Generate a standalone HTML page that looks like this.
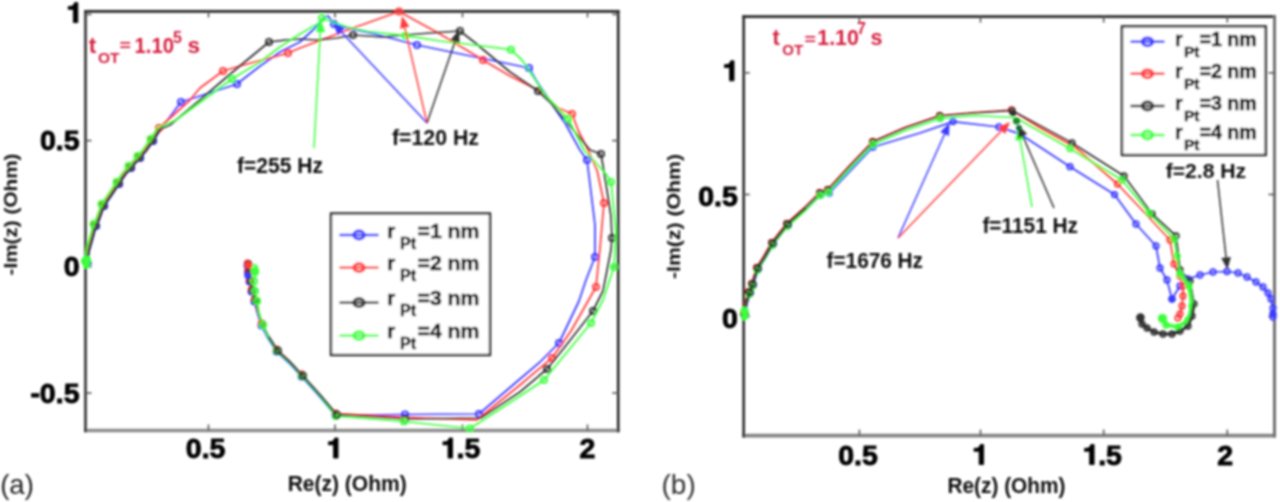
<!DOCTYPE html><html><head><meta charset="utf-8"><style>html,body{margin:0;padding:0;background:#fff;}svg{display:block;}text{font-family:"Liberation Sans",sans-serif;}</style></head><body>
<svg width="1280" height="502" viewBox="0 0 1280 502">
<defs><filter id="bl" x="-5%" y="-5%" width="110%" height="110%"><feGaussianBlur stdDeviation="0.85"/></filter></defs>
<rect width="1280" height="502" fill="#fff"/>
<g filter="url(#bl)">
<line x1="84.2" y1="11.4" x2="619.5" y2="11.4" stroke="#262626" stroke-width="2.60"/>
<line x1="84.2" y1="430.5" x2="619.5" y2="430.5" stroke="#8c8c8c" stroke-width="3.60"/>
<line x1="85.5" y1="10.1" x2="85.5" y2="432.3" stroke="#303030" stroke-width="2.60"/>
<line x1="618.2" y1="10.1" x2="618.2" y2="432.3" stroke="#262626" stroke-width="2.60"/>
<line x1="208.5" y1="430.5" x2="208.5" y2="424.5" stroke="#555" stroke-width="1.6"/>
<line x1="208.5" y1="11.4" x2="208.5" y2="17.4" stroke="#555" stroke-width="1.6"/>
<line x1="335.0" y1="430.5" x2="335.0" y2="424.5" stroke="#555" stroke-width="1.6"/>
<line x1="335.0" y1="11.4" x2="335.0" y2="17.4" stroke="#555" stroke-width="1.6"/>
<line x1="462.5" y1="430.5" x2="462.5" y2="424.5" stroke="#555" stroke-width="1.6"/>
<line x1="462.5" y1="11.4" x2="462.5" y2="17.4" stroke="#555" stroke-width="1.6"/>
<line x1="587.5" y1="430.5" x2="587.5" y2="424.5" stroke="#555" stroke-width="1.6"/>
<line x1="587.5" y1="11.4" x2="587.5" y2="17.4" stroke="#555" stroke-width="1.6"/>
<line x1="85.5" y1="14.4" x2="91.5" y2="14.4" stroke="#555" stroke-width="1.6"/>
<line x1="618.2" y1="14.4" x2="612.2" y2="14.4" stroke="#555" stroke-width="1.6"/>
<line x1="85.5" y1="140.6" x2="91.5" y2="140.6" stroke="#555" stroke-width="1.6"/>
<line x1="618.2" y1="140.6" x2="612.2" y2="140.6" stroke="#555" stroke-width="1.6"/>
<line x1="85.5" y1="266.8" x2="91.5" y2="266.8" stroke="#555" stroke-width="1.6"/>
<line x1="618.2" y1="266.8" x2="612.2" y2="266.8" stroke="#555" stroke-width="1.6"/>
<line x1="85.5" y1="393.0" x2="91.5" y2="393.0" stroke="#555" stroke-width="1.6"/>
<line x1="618.2" y1="393.0" x2="612.2" y2="393.0" stroke="#555" stroke-width="1.6"/>
<polyline points="87.7,263.0 89.2,251.0 93.2,237.0 96.2,226.0 99.2,220.0 104.2,206.0 111.2,196.0 119.2,184.0 125.2,175.0 131.2,168.0 140.2,158.0 146.2,151.0 153.2,141.0 160.2,130.0 181.0,102.0 200.0,96.0 237.0,84.0 260.0,66.0 280.0,52.0 300.0,42.0 316.0,27.0 323.0,18.0 328.0,16.0 334.0,24.0 347.0,28.0 375.0,34.0 417.0,45.0 451.0,52.0 500.0,62.0 529.0,68.0 536.0,80.0 560.0,116.0 565.0,123.0 580.0,150.0 587.0,160.0 590.0,184.0 595.0,225.0 595.0,257.0 586.0,280.0 579.0,301.0 559.0,343.0 540.0,362.0 520.0,379.0 479.0,414.0 405.0,414.5 335.5,415.5 319.5,396.5 301.5,376.5 289.5,363.5 276.5,351.5 267.5,337.5 261.5,325.5 257.5,313.5 254.5,301.5 251.5,291.5 249.5,281.5 248.0,272.5 247.5,265.5" fill="none" stroke="#3a3aff" stroke-width="1.75" stroke-linejoin="round"/>
<circle cx="87.7" cy="263.0" r="3.1" fill="none" stroke="#3a3aff" stroke-width="1.80"/>
<circle cx="96.2" cy="226.0" r="3.1" fill="none" stroke="#3a3aff" stroke-width="1.80"/>
<circle cx="104.2" cy="206.0" r="3.1" fill="none" stroke="#3a3aff" stroke-width="1.80"/>
<circle cx="119.2" cy="184.0" r="3.1" fill="none" stroke="#3a3aff" stroke-width="1.80"/>
<circle cx="131.2" cy="168.0" r="3.1" fill="none" stroke="#3a3aff" stroke-width="1.80"/>
<circle cx="140.2" cy="158.0" r="3.1" fill="none" stroke="#3a3aff" stroke-width="1.80"/>
<circle cx="153.2" cy="141.0" r="3.1" fill="none" stroke="#3a3aff" stroke-width="1.80"/>
<circle cx="181.0" cy="102.0" r="3.1" fill="none" stroke="#3a3aff" stroke-width="1.80"/>
<circle cx="237.0" cy="84.0" r="3.1" fill="none" stroke="#3a3aff" stroke-width="1.80"/>
<circle cx="334.0" cy="24.0" r="3.1" fill="none" stroke="#3a3aff" stroke-width="1.80"/>
<circle cx="417.0" cy="45.0" r="3.1" fill="none" stroke="#3a3aff" stroke-width="1.80"/>
<circle cx="529.0" cy="68.0" r="3.1" fill="none" stroke="#3a3aff" stroke-width="1.80"/>
<circle cx="587.0" cy="160.0" r="3.1" fill="none" stroke="#3a3aff" stroke-width="1.80"/>
<circle cx="595.0" cy="257.0" r="3.1" fill="none" stroke="#3a3aff" stroke-width="1.80"/>
<circle cx="559.0" cy="343.0" r="3.1" fill="none" stroke="#3a3aff" stroke-width="1.80"/>
<circle cx="479.0" cy="414.0" r="3.1" fill="none" stroke="#3a3aff" stroke-width="1.80"/>
<circle cx="405.0" cy="414.5" r="3.1" fill="none" stroke="#3a3aff" stroke-width="1.80"/>
<circle cx="335.5" cy="415.5" r="3.1" fill="none" stroke="#3a3aff" stroke-width="1.80"/>
<circle cx="301.5" cy="376.5" r="3.1" fill="none" stroke="#3a3aff" stroke-width="1.80"/>
<circle cx="276.5" cy="351.5" r="3.1" fill="none" stroke="#3a3aff" stroke-width="1.80"/>
<circle cx="261.5" cy="325.5" r="3.1" fill="none" stroke="#3a3aff" stroke-width="1.80"/>
<circle cx="254.5" cy="301.5" r="3.1" fill="none" stroke="#3a3aff" stroke-width="1.80"/>
<circle cx="251.5" cy="291.5" r="3.1" fill="none" stroke="#3a3aff" stroke-width="1.80"/>
<circle cx="249.5" cy="281.5" r="3.1" fill="none" stroke="#3a3aff" stroke-width="1.80"/>
<circle cx="248.0" cy="272.5" r="3.1" fill="none" stroke="#3a3aff" stroke-width="1.80"/>
<circle cx="247.5" cy="265.5" r="3.1" fill="none" stroke="#3a3aff" stroke-width="1.80"/>
<polyline points="85.7,261.4 87.2,249.4 91.2,235.4 94.2,224.4 97.2,218.4 102.2,204.4 109.2,194.4 117.2,182.4 123.2,173.4 129.2,166.4 138.2,156.4 144.2,149.4 151.2,139.4 158.2,128.4 159.0,128.0 190.0,100.0 200.0,88.0 223.0,71.0 240.0,66.0 288.0,53.0 300.0,48.0 316.0,42.0 342.0,32.0 370.0,22.0 399.0,11.5 440.0,34.0 483.0,60.0 510.0,76.0 538.0,90.0 558.0,108.0 572.0,114.0 578.0,130.0 588.0,150.0 597.0,170.0 604.0,203.0 600.0,248.0 596.0,287.0 571.0,331.0 552.0,358.0 520.0,385.0 476.7,420.0 405.5,417.3 335.7,413.5 319.7,394.5 301.7,374.5 289.7,361.5 276.7,349.5 267.7,335.5 261.7,323.5 257.7,311.5 254.7,299.5 251.7,289.5 249.7,279.5 248.2,270.5 247.7,263.5" fill="none" stroke="#ff3a3a" stroke-width="1.75" stroke-linejoin="round"/>
<circle cx="85.7" cy="261.4" r="3.1" fill="none" stroke="#ff3a3a" stroke-width="1.80"/>
<circle cx="94.2" cy="224.4" r="3.1" fill="none" stroke="#ff3a3a" stroke-width="1.80"/>
<circle cx="102.2" cy="204.4" r="3.1" fill="none" stroke="#ff3a3a" stroke-width="1.80"/>
<circle cx="117.2" cy="182.4" r="3.1" fill="none" stroke="#ff3a3a" stroke-width="1.80"/>
<circle cx="129.2" cy="166.4" r="3.1" fill="none" stroke="#ff3a3a" stroke-width="1.80"/>
<circle cx="138.2" cy="156.4" r="3.1" fill="none" stroke="#ff3a3a" stroke-width="1.80"/>
<circle cx="151.2" cy="139.4" r="3.1" fill="none" stroke="#ff3a3a" stroke-width="1.80"/>
<circle cx="159.0" cy="128.0" r="3.1" fill="none" stroke="#ff3a3a" stroke-width="1.80"/>
<circle cx="223.0" cy="71.0" r="3.1" fill="none" stroke="#ff3a3a" stroke-width="1.80"/>
<circle cx="288.0" cy="53.0" r="3.1" fill="none" stroke="#ff3a3a" stroke-width="1.80"/>
<circle cx="399.0" cy="11.5" r="3.1" fill="none" stroke="#ff3a3a" stroke-width="1.80"/>
<circle cx="483.0" cy="60.0" r="3.1" fill="none" stroke="#ff3a3a" stroke-width="1.80"/>
<circle cx="572.0" cy="114.0" r="3.1" fill="none" stroke="#ff3a3a" stroke-width="1.80"/>
<circle cx="604.0" cy="203.0" r="3.1" fill="none" stroke="#ff3a3a" stroke-width="1.80"/>
<circle cx="596.0" cy="287.0" r="3.1" fill="none" stroke="#ff3a3a" stroke-width="1.80"/>
<circle cx="552.0" cy="358.0" r="3.1" fill="none" stroke="#ff3a3a" stroke-width="1.80"/>
<circle cx="335.7" cy="413.5" r="3.1" fill="none" stroke="#ff3a3a" stroke-width="1.80"/>
<circle cx="301.7" cy="374.5" r="3.1" fill="none" stroke="#ff3a3a" stroke-width="1.80"/>
<circle cx="276.7" cy="349.5" r="3.1" fill="none" stroke="#ff3a3a" stroke-width="1.80"/>
<circle cx="261.7" cy="323.5" r="3.1" fill="none" stroke="#ff3a3a" stroke-width="1.80"/>
<circle cx="254.7" cy="299.5" r="3.1" fill="none" stroke="#ff3a3a" stroke-width="1.80"/>
<circle cx="251.7" cy="289.5" r="3.1" fill="none" stroke="#ff3a3a" stroke-width="1.80"/>
<circle cx="249.7" cy="279.5" r="3.1" fill="none" stroke="#ff3a3a" stroke-width="1.80"/>
<circle cx="248.2" cy="270.5" r="3.1" fill="none" stroke="#ff3a3a" stroke-width="1.80"/>
<circle cx="247.7" cy="263.5" r="3.1" fill="none" stroke="#ff3a3a" stroke-width="1.80"/>
<polyline points="87.0,262.5 88.5,250.5 92.5,236.5 95.5,225.5 98.5,219.5 103.5,205.5 110.5,195.5 118.5,183.5 124.5,174.5 130.5,167.5 139.5,157.5 145.5,150.5 152.5,140.5 159.5,129.5 170.0,125.0 200.0,100.0 235.0,70.0 269.0,42.0 286.0,40.0 300.0,39.0 316.0,40.0 337.0,38.0 353.0,35.0 382.0,37.0 430.0,33.0 460.0,31.0 476.0,43.5 510.0,72.0 538.0,91.0 550.0,102.0 570.0,126.0 590.0,150.0 601.0,154.0 606.0,184.0 611.0,216.0 612.0,238.0 611.0,250.0 603.0,291.0 593.0,311.0 564.0,348.0 547.0,369.0 520.0,392.0 481.0,418.0 405.0,419.0 336.5,414.5 320.5,395.5 302.5,375.5 290.5,362.5 277.5,350.5 268.5,336.5 262.5,324.5 258.5,312.5 255.5,300.5 252.5,290.5 250.5,280.5 249.0,271.5 248.5,264.5" fill="none" stroke="#303030" stroke-width="1.75" stroke-linejoin="round"/>
<circle cx="87.0" cy="262.5" r="3.1" fill="none" stroke="#303030" stroke-width="1.80"/>
<circle cx="95.5" cy="225.5" r="3.1" fill="none" stroke="#303030" stroke-width="1.80"/>
<circle cx="103.5" cy="205.5" r="3.1" fill="none" stroke="#303030" stroke-width="1.80"/>
<circle cx="118.5" cy="183.5" r="3.1" fill="none" stroke="#303030" stroke-width="1.80"/>
<circle cx="130.5" cy="167.5" r="3.1" fill="none" stroke="#303030" stroke-width="1.80"/>
<circle cx="139.5" cy="157.5" r="3.1" fill="none" stroke="#303030" stroke-width="1.80"/>
<circle cx="152.5" cy="140.5" r="3.1" fill="none" stroke="#303030" stroke-width="1.80"/>
<circle cx="269.0" cy="42.0" r="3.1" fill="none" stroke="#303030" stroke-width="1.80"/>
<circle cx="353.0" cy="35.0" r="3.1" fill="none" stroke="#303030" stroke-width="1.80"/>
<circle cx="460.0" cy="31.0" r="3.1" fill="none" stroke="#303030" stroke-width="1.80"/>
<circle cx="538.0" cy="91.0" r="3.1" fill="none" stroke="#303030" stroke-width="1.80"/>
<circle cx="601.0" cy="154.0" r="3.1" fill="none" stroke="#303030" stroke-width="1.80"/>
<circle cx="612.0" cy="238.0" r="3.1" fill="none" stroke="#303030" stroke-width="1.80"/>
<circle cx="593.0" cy="311.0" r="3.1" fill="none" stroke="#303030" stroke-width="1.80"/>
<circle cx="547.0" cy="369.0" r="3.1" fill="none" stroke="#303030" stroke-width="1.80"/>
<circle cx="405.0" cy="419.0" r="3.1" fill="none" stroke="#303030" stroke-width="1.80"/>
<circle cx="336.5" cy="414.5" r="3.1" fill="none" stroke="#303030" stroke-width="1.80"/>
<circle cx="302.5" cy="375.5" r="3.1" fill="none" stroke="#303030" stroke-width="1.80"/>
<circle cx="277.5" cy="350.5" r="3.1" fill="none" stroke="#303030" stroke-width="1.80"/>
<circle cx="262.5" cy="324.5" r="3.1" fill="none" stroke="#303030" stroke-width="1.80"/>
<circle cx="255.5" cy="300.5" r="3.1" fill="none" stroke="#303030" stroke-width="1.80"/>
<circle cx="252.5" cy="290.5" r="3.1" fill="none" stroke="#303030" stroke-width="1.80"/>
<circle cx="250.5" cy="280.5" r="3.1" fill="none" stroke="#303030" stroke-width="1.80"/>
<circle cx="249.0" cy="271.5" r="3.1" fill="none" stroke="#303030" stroke-width="1.80"/>
<circle cx="248.5" cy="264.5" r="3.1" fill="none" stroke="#303030" stroke-width="1.80"/>
<polyline points="85.0,261.0 86.5,249.0 90.5,235.0 93.5,224.0 96.5,218.0 101.5,204.0 108.5,194.0 116.5,182.0 122.5,173.0 128.5,166.0 137.5,156.0 143.5,149.0 150.5,139.0 157.5,128.0 176.0,120.0 232.0,79.0 260.0,62.0 280.0,47.0 300.0,34.0 321.0,22.0 322.0,18.0 347.0,27.0 368.0,31.5 405.5,35.7 440.0,41.0 483.0,46.0 511.0,49.7 522.0,60.0 546.0,96.0 568.0,118.7 584.0,150.0 606.0,174.0 611.0,182.0 616.0,232.0 614.0,267.0 603.0,300.0 591.0,323.0 544.0,380.0 520.0,396.0 470.0,428.5 404.0,421.5 336.0,416.0 320.0,396.0 302.0,376.0 290.0,363.0 277.0,351.0 268.0,337.0 263.0,325.0 259.0,313.0 257.0,301.0 255.0,291.0 254.0,281.0 255.0,272.0 254.0,268.0" fill="none" stroke="#3aff3a" stroke-width="1.75" stroke-linejoin="round"/>
<circle cx="85.0" cy="261.0" r="3.1" fill="none" stroke="#3aff3a" stroke-width="1.80"/>
<circle cx="93.5" cy="224.0" r="3.1" fill="none" stroke="#3aff3a" stroke-width="1.80"/>
<circle cx="101.5" cy="204.0" r="3.1" fill="none" stroke="#3aff3a" stroke-width="1.80"/>
<circle cx="116.5" cy="182.0" r="3.1" fill="none" stroke="#3aff3a" stroke-width="1.80"/>
<circle cx="128.5" cy="166.0" r="3.1" fill="none" stroke="#3aff3a" stroke-width="1.80"/>
<circle cx="137.5" cy="156.0" r="3.1" fill="none" stroke="#3aff3a" stroke-width="1.80"/>
<circle cx="150.5" cy="139.0" r="3.1" fill="none" stroke="#3aff3a" stroke-width="1.80"/>
<circle cx="232.0" cy="79.0" r="3.1" fill="none" stroke="#3aff3a" stroke-width="1.80"/>
<circle cx="322.0" cy="18.0" r="3.1" fill="none" stroke="#3aff3a" stroke-width="1.80"/>
<circle cx="405.5" cy="35.7" r="3.1" fill="none" stroke="#3aff3a" stroke-width="1.80"/>
<circle cx="511.0" cy="49.7" r="3.1" fill="none" stroke="#3aff3a" stroke-width="1.80"/>
<circle cx="568.0" cy="118.7" r="3.1" fill="none" stroke="#3aff3a" stroke-width="1.80"/>
<circle cx="611.0" cy="182.0" r="3.1" fill="none" stroke="#3aff3a" stroke-width="1.80"/>
<circle cx="614.0" cy="267.0" r="3.1" fill="none" stroke="#3aff3a" stroke-width="1.80"/>
<circle cx="591.0" cy="323.0" r="3.1" fill="none" stroke="#3aff3a" stroke-width="1.80"/>
<circle cx="544.0" cy="380.0" r="3.1" fill="none" stroke="#3aff3a" stroke-width="1.80"/>
<circle cx="470.0" cy="428.5" r="3.1" fill="none" stroke="#3aff3a" stroke-width="1.80"/>
<circle cx="404.0" cy="421.5" r="3.1" fill="none" stroke="#3aff3a" stroke-width="1.80"/>
<circle cx="336.0" cy="416.0" r="3.1" fill="none" stroke="#3aff3a" stroke-width="1.80"/>
<circle cx="302.0" cy="376.0" r="3.1" fill="none" stroke="#3aff3a" stroke-width="1.80"/>
<circle cx="277.0" cy="351.0" r="3.1" fill="none" stroke="#3aff3a" stroke-width="1.80"/>
<circle cx="263.0" cy="325.0" r="3.1" fill="none" stroke="#3aff3a" stroke-width="1.80"/>
<circle cx="257.0" cy="301.0" r="3.1" fill="none" stroke="#3aff3a" stroke-width="1.80"/>
<circle cx="255.0" cy="291.0" r="3.1" fill="none" stroke="#3aff3a" stroke-width="1.80"/>
<circle cx="254.0" cy="281.0" r="3.1" fill="none" stroke="#3aff3a" stroke-width="1.80"/>
<circle cx="255.0" cy="272.0" r="3.1" fill="none" stroke="#3aff3a" stroke-width="1.80"/>
<circle cx="254.0" cy="268.0" r="3.1" fill="none" stroke="#3aff3a" stroke-width="1.80"/>
<polyline points="87.5,263.0 89.0,251.0 93.0,237.0 96.0,226.0 99.0,220.0 104.0,206.0 111.0,196.0 119.0,184.0 125.0,175.0 131.0,168.0 140.0,158.0 146.0,151.0 153.0,141.0 160.0,130.0" fill="none" stroke="#303030" stroke-width="1.70" stroke-linejoin="round"/>
<polyline points="336.8,414.8 320.8,395.8 302.8,375.8 290.8,362.8 277.8,350.8 268.8,336.8" fill="none" stroke="#303030" stroke-width="1.70" stroke-linejoin="round"/>
<circle cx="336.8" cy="414.8" r="3.1" fill="none" stroke="#303030" stroke-width="1.80"/>
<circle cx="302.8" cy="375.8" r="3.1" fill="none" stroke="#303030" stroke-width="1.80"/>
<circle cx="277.8" cy="350.8" r="3.1" fill="none" stroke="#303030" stroke-width="1.80"/>
<circle cx="248.5" cy="265.0" r="3.8" fill="#ff3a3a"/>
<circle cx="255.0" cy="271.0" r="4.2" fill="#3aff3a"/>
<circle cx="247.5" cy="275.5" r="3.2" fill="#3a3aff"/>
<circle cx="87.0" cy="260.0" r="4.2" fill="#3aff3a"/>
<circle cx="86.5" cy="265.0" r="3.6" fill="#3aff3a"/>
<line x1="427.0" y1="123.0" x2="341.2" y2="31.7" stroke="#3a3aff" stroke-width="1.50"/>
<polygon points="333.0,23.0 344.7,28.5 337.7,35.0" fill="#3a3aff"/>
<line x1="427.0" y1="123.0" x2="404.7" y2="27.7" stroke="#ff3a3a" stroke-width="1.50"/>
<polygon points="402.0,16.0 409.4,26.6 400.1,28.8" fill="#ff3a3a"/>
<line x1="427.0" y1="123.0" x2="455.1" y2="41.3" stroke="#303030" stroke-width="1.50"/>
<polygon points="459.0,30.0 459.6,42.9 450.6,39.8" fill="#303030"/>
<line x1="314.0" y1="148.0" x2="320.3" y2="32.0" stroke="#3aff3a" stroke-width="1.50"/>
<polygon points="321.0,20.0 325.1,32.2 315.6,31.7" fill="#3aff3a"/>
<rect x="331.0" y="213.5" width="159.0" height="141.5" fill="#fff" stroke="#282828" stroke-width="2.4"/>
<line x1="339.5" y1="235.0" x2="378.5" y2="235.0" stroke="#3a3aff" stroke-width="2.4"/>
<ellipse cx="359.0" cy="235.0" rx="5.2" ry="3.9" fill="none" stroke="#3a3aff" stroke-width="3.0"/>
<text x="387.2" y="237.7" font-size="20.5" fill="#000" stroke="#000" stroke-width="0.45" font-weight="bold">r</text>
<text x="400.0" y="248.8" font-size="16.0" fill="#000" stroke="#000" stroke-width="0.45" font-weight="bold">Pt</text>
<text x="417.5" y="237.7" font-size="20.5" fill="#000" stroke="#000" stroke-width="0.45" font-weight="bold" textLength="62.0" lengthAdjust="spacingAndGlyphs">=1 nm</text>
<line x1="339.5" y1="267.6" x2="378.5" y2="267.6" stroke="#ff3a3a" stroke-width="2.4"/>
<ellipse cx="359.0" cy="267.6" rx="5.2" ry="3.9" fill="none" stroke="#ff3a3a" stroke-width="3.0"/>
<text x="387.2" y="270.3" font-size="20.5" fill="#000" stroke="#000" stroke-width="0.45" font-weight="bold">r</text>
<text x="400.0" y="281.4" font-size="16.0" fill="#000" stroke="#000" stroke-width="0.45" font-weight="bold">Pt</text>
<text x="417.5" y="270.3" font-size="20.5" fill="#000" stroke="#000" stroke-width="0.45" font-weight="bold" textLength="62.0" lengthAdjust="spacingAndGlyphs">=2 nm</text>
<line x1="339.5" y1="302.6" x2="378.5" y2="302.6" stroke="#303030" stroke-width="2.4"/>
<ellipse cx="359.0" cy="302.6" rx="5.2" ry="3.9" fill="none" stroke="#303030" stroke-width="3.0"/>
<text x="387.2" y="305.3" font-size="20.5" fill="#000" stroke="#000" stroke-width="0.45" font-weight="bold">r</text>
<text x="400.0" y="316.4" font-size="16.0" fill="#000" stroke="#000" stroke-width="0.45" font-weight="bold">Pt</text>
<text x="417.5" y="305.3" font-size="20.5" fill="#000" stroke="#000" stroke-width="0.45" font-weight="bold" textLength="62.0" lengthAdjust="spacingAndGlyphs">=3 nm</text>
<line x1="339.5" y1="335.6" x2="378.5" y2="335.6" stroke="#3aff3a" stroke-width="2.4"/>
<ellipse cx="359.0" cy="335.6" rx="5.2" ry="3.9" fill="none" stroke="#3aff3a" stroke-width="3.0"/>
<text x="387.2" y="338.3" font-size="20.5" fill="#000" stroke="#000" stroke-width="0.45" font-weight="bold">r</text>
<text x="400.0" y="349.4" font-size="16.0" fill="#000" stroke="#000" stroke-width="0.45" font-weight="bold">Pt</text>
<text x="417.5" y="338.3" font-size="20.5" fill="#000" stroke="#000" stroke-width="0.45" font-weight="bold" textLength="62.0" lengthAdjust="spacingAndGlyphs">=4 nm</text>
<text x="88.8" y="52.8" font-size="22.5" font-weight="bold" fill="#d62040" text-anchor="start" >t</text>
<text x="98.0" y="63.2" font-size="15.5" font-weight="bold" fill="#d62040" text-anchor="start" textLength="21.5" lengthAdjust="spacingAndGlyphs" >OT</text>
<text x="119.5" y="51.3" font-size="16.5" font-weight="bold" fill="#d62040" text-anchor="start" textLength="11.5" lengthAdjust="spacingAndGlyphs" >=</text>
<text x="134.5" y="52.8" font-size="22.5" font-weight="bold" fill="#d62040" text-anchor="start" textLength="39.5" lengthAdjust="spacingAndGlyphs" >1.10</text>
<text x="173.0" y="42.5" font-size="16.0" font-weight="bold" fill="#d62040" text-anchor="start" >5</text>
<text x="187.5" y="52.8" font-size="22.5" font-weight="bold" fill="#d62040" text-anchor="start" >s</text>
<text x="392.0" y="145.0" font-size="21.5" font-weight="bold" fill="#111" text-anchor="start" textLength="87.0" lengthAdjust="spacingAndGlyphs" >f=120 Hz</text>
<text x="237.0" y="172.8" font-size="21.5" font-weight="bold" fill="#111" text-anchor="start" textLength="86.0" lengthAdjust="spacingAndGlyphs" >f=255 Hz</text>
<text x="205.6" y="458.0" font-size="28.5" font-weight="bold" fill="#000" text-anchor="middle" stroke="#000" stroke-width="0.9">0.5</text>
<text x="587.5" y="458.0" font-size="28.5" font-weight="bold" fill="#000" text-anchor="middle" stroke="#000" stroke-width="0.9">2</text>
<path d="M 338.00,458.00 L 338.00,438.05 L 334.72,438.05 L 334.01,440.05 L 332.01,441.61 L 328.45,441.90 L 328.45,444.75 L 333.58,444.75 L 333.58,458.00 Z" fill="#000" stroke="#000" stroke-width="0.9" stroke-linejoin="round"/>
<path d="M 452.49,458.00 L 452.49,438.05 L 449.21,438.05 L 448.50,440.05 L 446.50,441.61 L 442.94,441.90 L 442.94,444.75 L 448.07,444.75 L 448.07,458.00 Z" fill="#000" stroke="#000" stroke-width="0.9" stroke-linejoin="round"/>
<text x="456.6" y="458.0" font-size="28.5" font-weight="bold" fill="#000" text-anchor="start" stroke="#000" stroke-width="0.9">.5</text>
<text x="79.5" y="150.1" font-size="28.5" font-weight="bold" fill="#000" text-anchor="end" stroke="#000" stroke-width="0.9">0.5</text>
<text x="79.5" y="276.0" font-size="28.5" font-weight="bold" fill="#000" text-anchor="end" stroke="#000" stroke-width="0.9">0</text>
<text x="79.5" y="402.5" font-size="28.5" font-weight="bold" fill="#000" text-anchor="end" stroke="#000" stroke-width="0.9">-0.5</text>
<path d="M 77.80,22.60 L 77.80,2.65 L 74.52,2.65 L 73.81,4.64 L 71.81,6.21 L 68.25,6.50 L 68.25,9.35 L 73.38,9.35 L 73.38,22.60 Z" fill="#000" stroke="#000" stroke-width="0.9" stroke-linejoin="round"/>
<text x="347.2" y="490.6" font-size="22.0" font-weight="bold" fill="#111" text-anchor="middle" textLength="119.0" lengthAdjust="spacingAndGlyphs" >Re(z) (Ohm)</text>
<text transform="translate(16.8,214.5) rotate(-90)" font-size="18.5" font-weight="bold" fill="#111" text-anchor="middle" textLength="122" lengthAdjust="spacingAndGlyphs">-Im(z) (Ohm)</text>
<text x="0.2" y="493.5" font-size="27.5" font-weight="normal" fill="#222" text-anchor="start" >(a)</text>
<line x1="742.4" y1="16.6" x2="1276.0" y2="16.6" stroke="#2a2a2a" stroke-width="2.60"/>
<line x1="742.4" y1="435.6" x2="1276.0" y2="435.6" stroke="#848484" stroke-width="3.60"/>
<line x1="743.7" y1="15.3" x2="743.7" y2="437.4" stroke="#2a2a2a" stroke-width="2.60"/>
<line x1="1274.5" y1="15.3" x2="1274.5" y2="437.4" stroke="#707070" stroke-width="3.00"/>
<line x1="859.4" y1="435.6" x2="859.4" y2="429.6" stroke="#555" stroke-width="1.6"/>
<line x1="859.4" y1="16.6" x2="859.4" y2="22.6" stroke="#555" stroke-width="1.6"/>
<line x1="980.5" y1="435.6" x2="980.5" y2="429.6" stroke="#555" stroke-width="1.6"/>
<line x1="980.5" y1="16.6" x2="980.5" y2="22.6" stroke="#555" stroke-width="1.6"/>
<line x1="1103.7" y1="435.6" x2="1103.7" y2="429.6" stroke="#555" stroke-width="1.6"/>
<line x1="1103.7" y1="16.6" x2="1103.7" y2="22.6" stroke="#555" stroke-width="1.6"/>
<line x1="1227.3" y1="435.6" x2="1227.3" y2="429.6" stroke="#555" stroke-width="1.6"/>
<line x1="1227.3" y1="16.6" x2="1227.3" y2="22.6" stroke="#555" stroke-width="1.6"/>
<line x1="743.7" y1="72.8" x2="749.7" y2="72.8" stroke="#555" stroke-width="1.6"/>
<line x1="1274.5" y1="72.8" x2="1268.5" y2="72.8" stroke="#555" stroke-width="1.6"/>
<line x1="743.7" y1="194.5" x2="749.7" y2="194.5" stroke="#555" stroke-width="1.6"/>
<line x1="1274.5" y1="194.5" x2="1268.5" y2="194.5" stroke="#555" stroke-width="1.6"/>
<line x1="743.7" y1="316.5" x2="749.7" y2="316.5" stroke="#555" stroke-width="1.6"/>
<line x1="1274.5" y1="316.5" x2="1268.5" y2="316.5" stroke="#555" stroke-width="1.6"/>
<polyline points="745.2,315.2 747.2,303.2 750.2,293.2 753.2,285.2 758.2,269.2 765.2,258.2 773.2,244.2 780.2,235.2 788.2,225.2 806.2,209.2 821.2,194.2 829.2,193.2 873.0,147.0 920.0,133.0 953.0,121.6 999.0,127.0 1020.0,134.0 1070.0,166.7 1114.5,194.6 1136.0,224.0 1156.0,246.0 1160.0,268.0 1167.0,280.0 1172.0,299.0 1180.0,286.0 1188.0,279.0 1200.0,275.0 1213.0,272.0 1227.0,271.5 1238.0,273.0 1247.0,277.0 1256.0,282.0 1263.0,287.0 1268.0,293.0 1271.0,299.0 1273.0,308.0 1273.0,317.0" fill="none" stroke="#3a3aff" stroke-width="1.75" stroke-linejoin="round"/>
<circle cx="745.2" cy="315.2" r="2.8" fill="none" stroke="#3a3aff" stroke-width="1.70"/>
<circle cx="750.2" cy="293.2" r="2.8" fill="none" stroke="#3a3aff" stroke-width="1.70"/>
<circle cx="753.2" cy="285.2" r="2.8" fill="none" stroke="#3a3aff" stroke-width="1.70"/>
<circle cx="758.2" cy="269.2" r="2.8" fill="none" stroke="#3a3aff" stroke-width="1.70"/>
<circle cx="773.2" cy="244.2" r="2.8" fill="none" stroke="#3a3aff" stroke-width="1.70"/>
<circle cx="788.2" cy="225.2" r="2.8" fill="none" stroke="#3a3aff" stroke-width="1.70"/>
<circle cx="821.2" cy="194.2" r="2.8" fill="none" stroke="#3a3aff" stroke-width="1.70"/>
<circle cx="829.2" cy="193.2" r="2.8" fill="none" stroke="#3a3aff" stroke-width="1.70"/>
<circle cx="873.0" cy="147.0" r="2.8" fill="none" stroke="#3a3aff" stroke-width="1.70"/>
<circle cx="953.0" cy="121.6" r="2.8" fill="none" stroke="#3a3aff" stroke-width="1.70"/>
<circle cx="999.0" cy="127.0" r="2.8" fill="none" stroke="#3a3aff" stroke-width="1.70"/>
<circle cx="1070.0" cy="166.7" r="2.8" fill="none" stroke="#3a3aff" stroke-width="1.70"/>
<circle cx="1114.5" cy="194.6" r="2.8" fill="none" stroke="#3a3aff" stroke-width="1.70"/>
<circle cx="1136.0" cy="224.0" r="2.8" fill="none" stroke="#3a3aff" stroke-width="1.70"/>
<circle cx="1156.0" cy="246.0" r="2.8" fill="none" stroke="#3a3aff" stroke-width="1.70"/>
<circle cx="1160.0" cy="268.0" r="2.8" fill="none" stroke="#3a3aff" stroke-width="1.70"/>
<circle cx="1167.0" cy="280.0" r="2.8" fill="none" stroke="#3a3aff" stroke-width="1.70"/>
<circle cx="1172.0" cy="299.0" r="2.8" fill="none" stroke="#3a3aff" stroke-width="1.70"/>
<circle cx="1180.0" cy="286.0" r="2.8" fill="none" stroke="#3a3aff" stroke-width="1.70"/>
<circle cx="1188.0" cy="279.0" r="2.8" fill="none" stroke="#3a3aff" stroke-width="1.70"/>
<circle cx="1200.0" cy="275.0" r="2.8" fill="none" stroke="#3a3aff" stroke-width="1.70"/>
<circle cx="1213.0" cy="272.0" r="2.8" fill="none" stroke="#3a3aff" stroke-width="1.70"/>
<circle cx="1227.0" cy="271.5" r="2.8" fill="none" stroke="#3a3aff" stroke-width="1.70"/>
<circle cx="1238.0" cy="273.0" r="2.8" fill="none" stroke="#3a3aff" stroke-width="1.70"/>
<circle cx="1247.0" cy="277.0" r="2.8" fill="none" stroke="#3a3aff" stroke-width="1.70"/>
<circle cx="1256.0" cy="282.0" r="2.8" fill="none" stroke="#3a3aff" stroke-width="1.70"/>
<circle cx="1263.0" cy="287.0" r="2.8" fill="none" stroke="#3a3aff" stroke-width="1.70"/>
<circle cx="1268.0" cy="293.0" r="2.8" fill="none" stroke="#3a3aff" stroke-width="1.70"/>
<circle cx="1271.0" cy="299.0" r="2.8" fill="none" stroke="#3a3aff" stroke-width="1.70"/>
<circle cx="1273.0" cy="308.0" r="2.8" fill="none" stroke="#3a3aff" stroke-width="1.70"/>
<circle cx="1273.0" cy="317.0" r="2.8" fill="none" stroke="#3a3aff" stroke-width="1.70"/>
<polyline points="743.5,313.5 745.5,301.5 748.5,291.5 751.5,283.5 756.5,267.5 763.5,256.5 771.5,242.5 778.5,233.5 786.5,223.5 804.5,207.5 819.5,192.5 827.5,189.5 849.5,165.5 872.5,141.5 904.5,127.5 939.5,115.5 974.5,112.5 1011.5,110.0 1040.0,128.0 1076.0,148.0 1117.5,184.0 1144.0,212.0 1170.0,240.0 1174.0,264.0 1180.0,276.0 1183.0,286.0 1183.0,296.0 1182.0,306.0 1180.0,314.0 1178.0,318.0" fill="none" stroke="#ff3a3a" stroke-width="1.75" stroke-linejoin="round"/>
<circle cx="743.5" cy="313.5" r="2.8" fill="none" stroke="#ff3a3a" stroke-width="1.70"/>
<circle cx="748.5" cy="291.5" r="2.8" fill="none" stroke="#ff3a3a" stroke-width="1.70"/>
<circle cx="751.5" cy="283.5" r="2.8" fill="none" stroke="#ff3a3a" stroke-width="1.70"/>
<circle cx="756.5" cy="267.5" r="2.8" fill="none" stroke="#ff3a3a" stroke-width="1.70"/>
<circle cx="771.5" cy="242.5" r="2.8" fill="none" stroke="#ff3a3a" stroke-width="1.70"/>
<circle cx="786.5" cy="223.5" r="2.8" fill="none" stroke="#ff3a3a" stroke-width="1.70"/>
<circle cx="819.5" cy="192.5" r="2.8" fill="none" stroke="#ff3a3a" stroke-width="1.70"/>
<circle cx="827.5" cy="189.5" r="2.8" fill="none" stroke="#ff3a3a" stroke-width="1.70"/>
<circle cx="872.5" cy="141.5" r="2.8" fill="none" stroke="#ff3a3a" stroke-width="1.70"/>
<circle cx="939.5" cy="115.5" r="2.8" fill="none" stroke="#ff3a3a" stroke-width="1.70"/>
<circle cx="1011.5" cy="110.0" r="2.8" fill="none" stroke="#ff3a3a" stroke-width="1.70"/>
<circle cx="1117.5" cy="184.0" r="2.8" fill="none" stroke="#ff3a3a" stroke-width="1.70"/>
<circle cx="1170.0" cy="240.0" r="2.8" fill="none" stroke="#ff3a3a" stroke-width="1.70"/>
<circle cx="1174.0" cy="264.0" r="2.8" fill="none" stroke="#ff3a3a" stroke-width="1.70"/>
<circle cx="1180.0" cy="276.0" r="2.8" fill="none" stroke="#ff3a3a" stroke-width="1.70"/>
<circle cx="1183.0" cy="286.0" r="2.8" fill="none" stroke="#ff3a3a" stroke-width="1.70"/>
<circle cx="1183.0" cy="296.0" r="2.8" fill="none" stroke="#ff3a3a" stroke-width="1.70"/>
<circle cx="1182.0" cy="306.0" r="2.8" fill="none" stroke="#ff3a3a" stroke-width="1.70"/>
<circle cx="1180.0" cy="314.0" r="2.8" fill="none" stroke="#ff3a3a" stroke-width="1.70"/>
<circle cx="1178.0" cy="318.0" r="2.8" fill="none" stroke="#ff3a3a" stroke-width="1.70"/>
<polyline points="744.0,314.0 746.0,302.0 749.0,292.0 752.0,284.0 757.0,268.0 764.0,257.0 772.0,243.0 779.0,234.0 787.0,224.0 805.0,208.0 820.0,193.0 828.0,190.0 850.0,166.0 873.0,142.0 905.0,128.0 940.0,116.0 975.0,113.0 1012.0,110.5 1072.0,143.0 1124.0,176.0 1152.0,214.0 1176.0,236.0 1178.0,252.0 1180.0,270.0 1190.0,281.0 1194.0,304.0 1192.0,316.0 1188.0,326.0 1180.0,331.0 1172.0,334.0 1163.0,334.0 1154.0,332.0 1147.0,328.0 1142.0,324.0 1140.0,318.0" fill="none" stroke="#303030" stroke-width="1.75" stroke-linejoin="round"/>
<circle cx="744.0" cy="314.0" r="2.8" fill="none" stroke="#303030" stroke-width="1.70"/>
<circle cx="749.0" cy="292.0" r="2.8" fill="none" stroke="#303030" stroke-width="1.70"/>
<circle cx="752.0" cy="284.0" r="2.8" fill="none" stroke="#303030" stroke-width="1.70"/>
<circle cx="757.0" cy="268.0" r="2.8" fill="none" stroke="#303030" stroke-width="1.70"/>
<circle cx="772.0" cy="243.0" r="2.8" fill="none" stroke="#303030" stroke-width="1.70"/>
<circle cx="787.0" cy="224.0" r="2.8" fill="none" stroke="#303030" stroke-width="1.70"/>
<circle cx="820.0" cy="193.0" r="2.8" fill="none" stroke="#303030" stroke-width="1.70"/>
<circle cx="828.0" cy="190.0" r="2.8" fill="none" stroke="#303030" stroke-width="1.70"/>
<circle cx="873.0" cy="142.0" r="2.8" fill="none" stroke="#303030" stroke-width="1.70"/>
<circle cx="940.0" cy="116.0" r="2.8" fill="none" stroke="#303030" stroke-width="1.70"/>
<circle cx="1012.0" cy="110.5" r="2.8" fill="none" stroke="#303030" stroke-width="1.70"/>
<circle cx="1072.0" cy="143.0" r="2.8" fill="none" stroke="#303030" stroke-width="1.70"/>
<circle cx="1124.0" cy="176.0" r="2.8" fill="none" stroke="#303030" stroke-width="1.70"/>
<circle cx="1152.0" cy="214.0" r="2.8" fill="none" stroke="#303030" stroke-width="1.70"/>
<circle cx="1176.0" cy="236.0" r="2.8" fill="none" stroke="#303030" stroke-width="1.70"/>
<circle cx="1180.0" cy="270.0" r="2.8" fill="none" stroke="#303030" stroke-width="1.70"/>
<circle cx="1190.0" cy="281.0" r="2.8" fill="none" stroke="#303030" stroke-width="1.70"/>
<circle cx="1194.0" cy="304.0" r="2.8" fill="none" stroke="#303030" stroke-width="1.70"/>
<circle cx="1192.0" cy="316.0" r="2.8" fill="none" stroke="#303030" stroke-width="1.70"/>
<circle cx="1188.0" cy="326.0" r="2.8" fill="none" stroke="#303030" stroke-width="1.70"/>
<circle cx="1180.0" cy="331.0" r="2.8" fill="none" stroke="#303030" stroke-width="1.70"/>
<circle cx="1172.0" cy="334.0" r="2.8" fill="none" stroke="#303030" stroke-width="1.70"/>
<circle cx="1163.0" cy="334.0" r="2.8" fill="none" stroke="#303030" stroke-width="1.70"/>
<circle cx="1154.0" cy="332.0" r="2.8" fill="none" stroke="#303030" stroke-width="1.70"/>
<circle cx="1147.0" cy="328.0" r="2.8" fill="none" stroke="#303030" stroke-width="1.70"/>
<circle cx="1142.0" cy="324.0" r="2.8" fill="none" stroke="#303030" stroke-width="1.70"/>
<circle cx="1140.0" cy="318.0" r="2.8" fill="none" stroke="#303030" stroke-width="1.70"/>
<polyline points="744.3,316.5 746.3,304.5 749.3,294.5 752.3,286.5 757.3,270.5 764.3,259.5 772.3,245.5 779.3,236.5 787.3,226.5 805.3,210.5 820.3,195.5 828.3,192.5 850.3,168.5 873.3,144.5 905.3,130.5 940.3,118.5 975.3,115.5 1012.3,117.5 1018.0,119.0 1070.0,148.5 1122.0,180.0 1149.0,213.0 1174.0,239.0 1177.0,256.0 1180.0,274.0 1189.0,286.0 1192.0,306.0 1188.0,320.0 1178.0,327.0 1166.0,325.0 1162.0,318.0" fill="none" stroke="#3aff3a" stroke-width="1.75" stroke-linejoin="round"/>
<circle cx="744.3" cy="316.5" r="2.8" fill="none" stroke="#3aff3a" stroke-width="1.70"/>
<circle cx="749.3" cy="294.5" r="2.8" fill="none" stroke="#3aff3a" stroke-width="1.70"/>
<circle cx="752.3" cy="286.5" r="2.8" fill="none" stroke="#3aff3a" stroke-width="1.70"/>
<circle cx="757.3" cy="270.5" r="2.8" fill="none" stroke="#3aff3a" stroke-width="1.70"/>
<circle cx="772.3" cy="245.5" r="2.8" fill="none" stroke="#3aff3a" stroke-width="1.70"/>
<circle cx="787.3" cy="226.5" r="2.8" fill="none" stroke="#3aff3a" stroke-width="1.70"/>
<circle cx="820.3" cy="195.5" r="2.8" fill="none" stroke="#3aff3a" stroke-width="1.70"/>
<circle cx="828.3" cy="192.5" r="2.8" fill="none" stroke="#3aff3a" stroke-width="1.70"/>
<circle cx="873.3" cy="144.5" r="2.8" fill="none" stroke="#3aff3a" stroke-width="1.70"/>
<circle cx="940.3" cy="118.5" r="2.8" fill="none" stroke="#3aff3a" stroke-width="1.70"/>
<circle cx="1070.0" cy="148.5" r="2.8" fill="none" stroke="#3aff3a" stroke-width="1.70"/>
<circle cx="1122.0" cy="180.0" r="2.8" fill="none" stroke="#3aff3a" stroke-width="1.70"/>
<circle cx="1149.0" cy="213.0" r="2.8" fill="none" stroke="#3aff3a" stroke-width="1.70"/>
<circle cx="1174.0" cy="239.0" r="2.8" fill="none" stroke="#3aff3a" stroke-width="1.70"/>
<circle cx="1177.0" cy="256.0" r="2.8" fill="none" stroke="#3aff3a" stroke-width="1.70"/>
<circle cx="1180.0" cy="274.0" r="2.8" fill="none" stroke="#3aff3a" stroke-width="1.70"/>
<circle cx="1189.0" cy="286.0" r="2.8" fill="none" stroke="#3aff3a" stroke-width="1.70"/>
<circle cx="1192.0" cy="306.0" r="2.8" fill="none" stroke="#3aff3a" stroke-width="1.70"/>
<circle cx="1188.0" cy="320.0" r="2.8" fill="none" stroke="#3aff3a" stroke-width="1.70"/>
<circle cx="1178.0" cy="327.0" r="2.8" fill="none" stroke="#3aff3a" stroke-width="1.70"/>
<circle cx="1166.0" cy="325.0" r="2.8" fill="none" stroke="#3aff3a" stroke-width="1.70"/>
<circle cx="1162.0" cy="318.0" r="2.8" fill="none" stroke="#3aff3a" stroke-width="1.70"/>
<polyline points="744.8,314.2 746.8,302.2 749.8,292.2 752.8,284.2 757.8,268.2 764.8,257.2 772.8,243.2 779.8,234.2 787.8,224.2 805.8,208.2" fill="none" stroke="#303030" stroke-width="1.80" stroke-linejoin="round"/>
<circle cx="744.8" cy="314.2" r="3.1" fill="none" stroke="#303030" stroke-width="1.80"/>
<circle cx="749.8" cy="292.2" r="3.1" fill="none" stroke="#303030" stroke-width="1.80"/>
<circle cx="752.8" cy="284.2" r="3.1" fill="none" stroke="#303030" stroke-width="1.80"/>
<circle cx="757.8" cy="268.2" r="3.1" fill="none" stroke="#303030" stroke-width="1.80"/>
<circle cx="772.8" cy="243.2" r="3.1" fill="none" stroke="#303030" stroke-width="1.80"/>
<circle cx="787.8" cy="224.2" r="3.1" fill="none" stroke="#303030" stroke-width="1.80"/>
<polyline points="1180,274 1189,286 1192,306 1188,320 1178,327 1166,325 1162,318" fill="none" stroke="#3aff3a" stroke-width="3.6" stroke-linejoin="round" stroke-linecap="round"/>
<polyline points="1194,304 1192,316 1188,326 1180,331 1172,334 1163,334 1154,332 1147,328 1142,324 1140,318" fill="none" stroke="#303030" stroke-width="3.0" stroke-linejoin="round" stroke-linecap="round"/>
<circle cx="1140.5" cy="317.5" r="4.2" fill="#303030"/>
<circle cx="1162.5" cy="318.5" r="4.6" fill="#3aff3a"/>
<circle cx="1172.0" cy="299.0" r="3.6" fill="#3a3aff"/>
<circle cx="1273.0" cy="314.0" r="3.8" fill="#3a3aff"/>
<circle cx="744.5" cy="311.0" r="4.2" fill="#3aff3a"/>
<circle cx="745.0" cy="316.0" r="3.5" fill="#3aff3a"/>
<line x1="898.0" y1="238.0" x2="944.6" y2="134.0" stroke="#3a3aff" stroke-width="1.50"/>
<polygon points="949.5,123.0 949.0,135.9 940.2,132.0" fill="#3a3aff"/>
<line x1="898.0" y1="238.0" x2="1001.7" y2="130.6" stroke="#ff3a3a" stroke-width="1.50"/>
<polygon points="1010.0,122.0 1005.1,134.0 998.2,127.3" fill="#ff3a3a"/>
<line x1="1032.0" y1="207.0" x2="1020.1" y2="139.8" stroke="#3aff3a" stroke-width="1.50"/>
<polygon points="1018.0,128.0 1024.8,139.0 1015.4,140.7" fill="#3aff3a"/>
<line x1="1054.0" y1="208.0" x2="1022.8" y2="136.0" stroke="#303030" stroke-width="1.50"/>
<polygon points="1018.0,125.0 1027.2,134.1 1018.4,137.9" fill="#303030"/>
<circle cx="1013.0" cy="113.0" r="3.3" fill="#303030"/>
<circle cx="1016.5" cy="121.0" r="3.6" fill="#1a8a2a"/>
<circle cx="1019.0" cy="128.0" r="3.0" fill="#1a6a3a"/>
<line x1="1217.5" y1="180.0" x2="1226.1" y2="257.6" stroke="#303030" stroke-width="1.50"/>
<polygon points="1227.4,269.5 1221.3,258.1 1230.9,257.0" fill="#303030"/>
<rect x="1122.0" y="26.4" width="143.7" height="128.6" fill="#fff" stroke="#282828" stroke-width="2.4"/>
<line x1="1130.5" y1="41.8" x2="1164.5" y2="41.8" stroke="#3a3aff" stroke-width="2.4"/>
<ellipse cx="1147.5" cy="41.8" rx="5.2" ry="3.9" fill="none" stroke="#3a3aff" stroke-width="3.0"/>
<text x="1175.0" y="45.8" font-size="19.5" fill="#000" stroke="#000" stroke-width="0.45" font-weight="bold">r</text>
<text x="1184.0" y="56.8" font-size="15.5" fill="#000" stroke="#000" stroke-width="0.45" font-weight="bold">Pt</text>
<text x="1199.5" y="45.8" font-size="19.5" fill="#000" stroke="#000" stroke-width="0.45" font-weight="bold" textLength="57.3" lengthAdjust="spacingAndGlyphs">=1 nm</text>
<line x1="1130.5" y1="73.8" x2="1164.5" y2="73.8" stroke="#ff3a3a" stroke-width="2.4"/>
<ellipse cx="1147.5" cy="73.8" rx="5.2" ry="3.9" fill="none" stroke="#ff3a3a" stroke-width="3.0"/>
<text x="1175.0" y="77.8" font-size="19.5" fill="#000" stroke="#000" stroke-width="0.45" font-weight="bold">r</text>
<text x="1184.0" y="88.8" font-size="15.5" fill="#000" stroke="#000" stroke-width="0.45" font-weight="bold">Pt</text>
<text x="1199.5" y="77.8" font-size="19.5" fill="#000" stroke="#000" stroke-width="0.45" font-weight="bold" textLength="57.3" lengthAdjust="spacingAndGlyphs">=2 nm</text>
<line x1="1130.5" y1="106.0" x2="1164.5" y2="106.0" stroke="#303030" stroke-width="2.4"/>
<ellipse cx="1147.5" cy="106.0" rx="5.2" ry="3.9" fill="none" stroke="#303030" stroke-width="3.0"/>
<text x="1175.0" y="110.0" font-size="19.5" fill="#000" stroke="#000" stroke-width="0.45" font-weight="bold">r</text>
<text x="1184.0" y="121.0" font-size="15.5" fill="#000" stroke="#000" stroke-width="0.45" font-weight="bold">Pt</text>
<text x="1199.5" y="110.0" font-size="19.5" fill="#000" stroke="#000" stroke-width="0.45" font-weight="bold" textLength="57.3" lengthAdjust="spacingAndGlyphs">=3 nm</text>
<line x1="1130.5" y1="135.0" x2="1164.5" y2="135.0" stroke="#3aff3a" stroke-width="2.4"/>
<ellipse cx="1147.5" cy="135.0" rx="5.2" ry="3.9" fill="none" stroke="#3aff3a" stroke-width="3.0"/>
<text x="1175.0" y="139.0" font-size="19.5" fill="#000" stroke="#000" stroke-width="0.45" font-weight="bold">r</text>
<text x="1184.0" y="150.0" font-size="15.5" fill="#000" stroke="#000" stroke-width="0.45" font-weight="bold">Pt</text>
<text x="1199.5" y="139.0" font-size="19.5" fill="#000" stroke="#000" stroke-width="0.45" font-weight="bold" textLength="57.3" lengthAdjust="spacingAndGlyphs">=4 nm</text>
<text x="772.6" y="45.3" font-size="21.5" font-weight="bold" fill="#d62040" text-anchor="start" >t</text>
<text x="782.3" y="55.4" font-size="15.0" font-weight="bold" fill="#d62040" text-anchor="start" textLength="20.8" lengthAdjust="spacingAndGlyphs" >OT</text>
<text x="804.5" y="44.6" font-size="16.5" font-weight="bold" fill="#d62040" text-anchor="start" textLength="11.5" lengthAdjust="spacingAndGlyphs" >=</text>
<text x="817.3" y="45.3" font-size="21.5" font-weight="bold" fill="#d62040" text-anchor="start" textLength="41.5" lengthAdjust="spacingAndGlyphs" >1.10</text>
<text x="857.0" y="34.2" font-size="16.0" font-weight="bold" fill="#d62040" text-anchor="start" >7</text>
<text x="870.6" y="45.3" font-size="21.5" font-weight="bold" fill="#d62040" text-anchor="start" >s</text>
<text x="826.5" y="268.2" font-size="21.5" font-weight="bold" fill="#111" text-anchor="start" textLength="96.5" lengthAdjust="spacingAndGlyphs" >f=1676 Hz</text>
<text x="982.4" y="233.2" font-size="21.5" font-weight="bold" fill="#111" text-anchor="start" textLength="95.6" lengthAdjust="spacingAndGlyphs" >f=1151 Hz</text>
<text x="1165.7" y="178.4" font-size="21.0" font-weight="bold" fill="#111" text-anchor="start" textLength="80.5" lengthAdjust="spacingAndGlyphs" >f=2.8 Hz</text>
<text x="858.0" y="464.5" font-size="28.5" font-weight="bold" fill="#000" text-anchor="middle" stroke="#000" stroke-width="0.9">0.5</text>
<text x="1225.3" y="464.5" font-size="28.5" font-weight="bold" fill="#000" text-anchor="middle" stroke="#000" stroke-width="0.9">2</text>
<path d="M 983.60,464.50 L 983.60,444.55 L 980.32,444.55 L 979.61,446.55 L 977.62,448.11 L 974.05,448.40 L 974.05,451.25 L 979.18,451.25 L 979.18,464.50 Z" fill="#000" stroke="#000" stroke-width="0.9" stroke-linejoin="round"/>
<path d="M 1094.09,464.50 L 1094.09,444.55 L 1090.81,444.55 L 1090.10,446.55 L 1088.10,448.11 L 1084.54,448.40 L 1084.54,451.25 L 1089.67,451.25 L 1089.67,464.50 Z" fill="#000" stroke="#000" stroke-width="0.9" stroke-linejoin="round"/>
<text x="1098.2" y="464.5" font-size="28.5" font-weight="bold" fill="#000" text-anchor="start" stroke="#000" stroke-width="0.9">.5</text>
<text x="737.8" y="205.5" font-size="28.5" font-weight="bold" fill="#000" text-anchor="end" stroke="#000" stroke-width="0.9">0.5</text>
<text x="737.8" y="327.5" font-size="28.5" font-weight="bold" fill="#000" text-anchor="end" stroke="#000" stroke-width="0.9">0</text>
<path d="M 734.00,80.80 L 734.00,60.85 L 730.72,60.85 L 730.01,62.84 L 728.02,64.41 L 724.45,64.70 L 724.45,67.55 L 729.58,67.55 L 729.58,80.80 Z" fill="#000" stroke="#000" stroke-width="0.9" stroke-linejoin="round"/>
<text x="1006.5" y="493.0" font-size="22.0" font-weight="bold" fill="#111" text-anchor="middle" textLength="118.0" lengthAdjust="spacingAndGlyphs" >Re(z) (Ohm)</text>
<text transform="translate(679.5,216.5) rotate(-90)" font-size="18" font-weight="bold" fill="#111" text-anchor="middle" textLength="125" lengthAdjust="spacingAndGlyphs">-Im(z) (Ohm)</text>
<text x="661.5" y="494.2" font-size="28.0" font-weight="normal" fill="#333" text-anchor="start" >(b)</text>
</g></svg></body></html>
